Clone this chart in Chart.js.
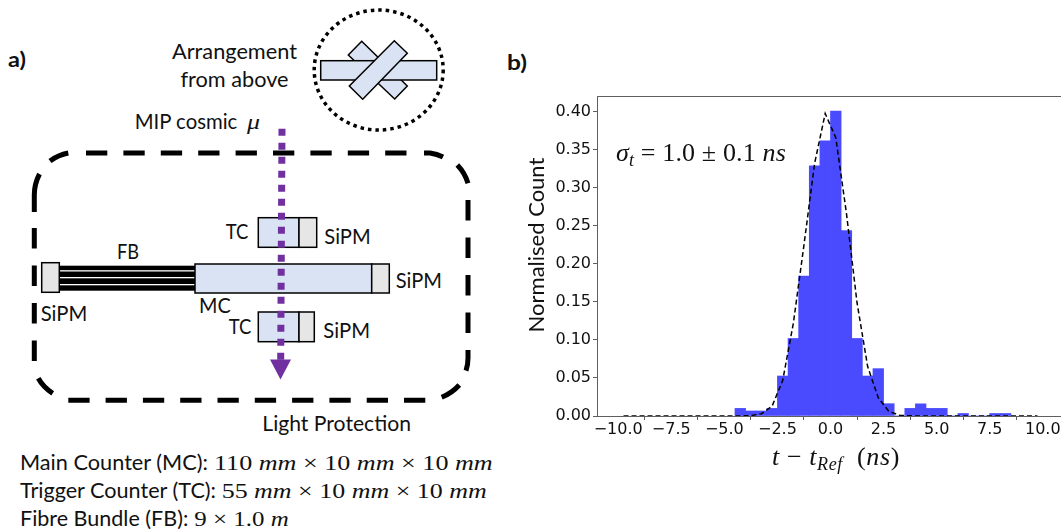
<!DOCTYPE html>
<html lang="en">
<head>
    <meta charset="UTF-8">
    <title>Timing resolution</title>
    <script src="https://cdn.jsdelivr.net/npm/chart.js"></script>
    <style>
        html, body { margin: 0; background: #fff; width: 1061px; height: 529px; overflow: hidden; }
        #diagram { position: absolute; left: 0; top: 0; }
        #diagram text { font-family: Lato, sans-serif; font-size: 22px; fill: #111; }
        #diagram .math { font-family: "Liberation Serif", serif; }
        #diagram .it { font-style: italic; }
        #diagram .panel { font-weight: bold; font-size: 21px; }
        #plot { position: absolute; left: 520px; top: 80px; width: 560px; height: 449px; }
    </style>
</head>
<body>
    <svg id="diagram" width="1061" height="529">
        <text class="panel" x="8" y="67" textLength="18" lengthAdjust="spacingAndGlyphs">a)</text>
        <text class="panel" x="507" y="70" textLength="20" lengthAdjust="spacingAndGlyphs">b)</text>

        <!-- arrangement from above -->
        <text x="172" y="59" textLength="125" lengthAdjust="spacingAndGlyphs">Arrangement</text>
        <text x="180.500" y="87" textLength="108" lengthAdjust="spacingAndGlyphs">from above</text>
        <ellipse cx="378.700" cy="70" rx="64.500" ry="60" fill="none" stroke="#000" stroke-width="3.500" stroke-dasharray="3.500 4"/>
        <polygon points="361.700,41.300 407.300,86 394.700,99 348.300,55" fill="#dae3f3" stroke="#000" stroke-width="1.500"/>
        <rect x="320.700" y="60.700" width="116" height="19.300" fill="#dae3f3" stroke="#000" stroke-width="1.500"/>
        <polygon points="394.300,40.700 407.300,53.300 362.700,99.300 349.300,86" fill="#dae3f3" stroke="#000" stroke-width="1.500"/>

        <text x="134.700" y="129" textLength="102.600" lengthAdjust="spacingAndGlyphs">MIP cosmic</text>
        <text class="math it" x="247" y="129" textLength="13" lengthAdjust="spacingAndGlyphs">μ</text>

        <!-- fibre bundle -->
        <rect x="59.300" y="265.700" width="136" height="25" fill="#000"/>
        <rect x="59.300" y="270.200" width="136" height="1.300" fill="#fff"/>
        <rect x="59.300" y="277" width="136" height="1.300" fill="#fff"/>
        <rect x="59.300" y="284" width="136" height="1.300" fill="#fff"/>
        <rect x="41.700" y="262.700" width="17.600" height="29.600" fill="#e7e6e6" stroke="#000" stroke-width="1.500"/>
        <text x="117" y="259" textLength="22" lengthAdjust="spacingAndGlyphs">FB</text>

        <!-- counters -->
        <rect x="195" y="264" width="176.700" height="29" fill="#dae3f3" stroke="#000" stroke-width="1.500"/>
        <rect x="371.700" y="264" width="17.600" height="29" fill="#e7e6e6" stroke="#000" stroke-width="1.500"/>
        <rect x="258.300" y="217.700" width="40.700" height="29.600" fill="#dae3f3" stroke="#000" stroke-width="1.500"/>
        <rect x="299" y="217.700" width="17.700" height="29.600" fill="#e7e6e6" stroke="#000" stroke-width="1.500"/>
        <rect x="258.300" y="312" width="40.700" height="29.700" fill="#dae3f3" stroke="#000" stroke-width="1.500"/>
        <rect x="299" y="312" width="15.300" height="29.700" fill="#e7e6e6" stroke="#000" stroke-width="1.500"/>

        <text x="225.700" y="238.700" textLength="22.600" lengthAdjust="spacingAndGlyphs">TC</text>
        <text x="324.300" y="244.300" textLength="46.400" lengthAdjust="spacingAndGlyphs">SiPM</text>
        <text x="395.700" y="287.700" textLength="46.300" lengthAdjust="spacingAndGlyphs">SiPM</text>
        <text x="40.700" y="320.700" textLength="46.600" lengthAdjust="spacingAndGlyphs">SiPM</text>
        <text x="199" y="312.700" textLength="31.700" lengthAdjust="spacingAndGlyphs">MC</text>
        <text x="228.700" y="333.700" textLength="22.600" lengthAdjust="spacingAndGlyphs">TC</text>
        <text x="323.300" y="338" textLength="46.700" lengthAdjust="spacingAndGlyphs">SiPM</text>

        <!-- muon track -->
        <line x1="282" y1="128.700" x2="280.700" y2="360" stroke="#7030a0" stroke-width="7" stroke-dasharray="7 7"/>
        <polygon points="270,359.500 291,359.500 280.500,379.500" fill="#7030a0"/>

        <!-- light protection box -->
        <g fill="none" stroke="#000" stroke-width="5">
            <line x1="86" y1="153" x2="406.500" y2="153" stroke-dasharray="21.300 16.100"/>
            <line x1="68.300" y1="400.300" x2="426" y2="400.300" stroke-dasharray="21.300 16"/>
            <line x1="34.300" y1="228" x2="34.300" y2="362" stroke-dasharray="20.500 17"/>
            <line x1="468" y1="200" x2="468" y2="333" stroke-dasharray="20.500 17"/>
            <path d="M50,161 Q58,155 68.300,153"/>
            <path d="M39.500,174 Q34.300,184 34.300,195 L34.300,212"/>
            <path d="M38.300,378.300 Q43,387 52.700,393.300"/>
            <path d="M441.700,397.300 Q452,393 459.300,385"/>
            <path d="M468,350 L468,358 Q468,365 466,370.700"/>
            <path d="M424,153 L430,153 Q437,154 443,157"/>
            <path d="M457.300,165 Q465,173 468,183.300"/>
        </g>
        <text x="262.300" y="430.700" textLength="148.700" lengthAdjust="spacingAndGlyphs">Light Protection</text>

        <!-- dimensions -->
        <text x="20" y="470" textLength="188" lengthAdjust="spacingAndGlyphs">Main Counter (MC):</text>
        <text class="math" x="214" y="470" textLength="278.700" lengthAdjust="spacingAndGlyphs">110 <tspan class="it">mm</tspan> × 10 <tspan class="it">mm</tspan> × 10 <tspan class="it">mm</tspan></text>
        <text x="20" y="498" textLength="196" lengthAdjust="spacingAndGlyphs">Trigger Counter (TC):</text>
        <text class="math" x="221.700" y="498" textLength="265" lengthAdjust="spacingAndGlyphs">55 <tspan class="it">mm</tspan> × 10 <tspan class="it">mm</tspan> × 10 <tspan class="it">mm</tspan></text>
        <text x="20" y="526" textLength="168.300" lengthAdjust="spacingAndGlyphs">Fibre Bundle (FB):</text>
        <text class="math" x="194.300" y="526" textLength="94.400" lengthAdjust="spacingAndGlyphs">9 × 1.0 <tspan class="it">m</tspan></text>
    </svg>

    <div id="plot"><canvas id="timingChart"></canvas></div>

    <script>
        // histogram bins, left edge of each 0.5 ns bin
        const binEdges = [-4.5, -4, -3.5, -3, -2.5, -2, -1.5, -1, -0.5, 0, 0.5, 1, 1.5, 2, 2.5, 3, 3.5, 4, 4.5, 5, 5.5, 6, 6.5, 7, 7.5, 8];
        const binCounts = [0.010, 0.0066, 0.0066, 0.010, 0.0526, 0.102, 0.184, 0.329, 0.362, 0.401, 0.244, 0.102, 0.0526, 0.0623, 0.0162, 0, 0.010, 0.016, 0.010, 0.010, 0, 0.0033, 0, 0, 0.0033, 0.0033];

        // fit curve
        const fitX = [-9.75, -8.75, -7.75, -6.75, -5.75, -4.75, -4.25, -3.75, -3.25, -2.75, -2.25, -1.75, -1.25, -0.75, -0.25, 0.25, 0.75, 1.25, 1.75, 2.25, 2.75, 3.25, 3.75, 4.25, 4.75, 5.75, 6.75, 7.75, 8.75, 9.75];
        const fitY = [0, 0, 0, 0, 0, 0, 0.0001, 0.0005, 0.003, 0.013, 0.047, 0.122, 0.225, 0.332, 0.398, 0.366, 0.267, 0.149, 0.065, 0.024, 0.006, 0.001, 0.0002, 0, 0, 0, 0, 0, 0, 0];

        const xTicks = [-10, -7.5, -5, -2.5, 0, 2.5, 5, 7.5, 10];
        const xTickLabels = ['−10.0', '−7.5', '−5.0', '−2.5', '0.0', '2.5', '5.0', '7.5', '10.0'];
        const yTicks = [0, 0.05, 0.10, 0.15, 0.20, 0.25, 0.30, 0.35, 0.40];
        const yTickLabels = ['0.00', '0.05', '0.10', '0.15', '0.20', '0.25', '0.30', '0.35', '0.40'];

        const SERIF = '"Liberation Serif", serif';
        const axisColor = '#5f5f5f';

        function drawRuns(ctx, x, y, runs) {
            runs.forEach(r => {
                ctx.font = r.font;
                ctx.fillText(r.text, x, y + (r.dy || 0));
                x += ctx.measureText(r.text).width;
            });
        }

        const labels = {
            id: 'labels',
            afterDraw(chart) {
                const { ctx, chartArea } = chart;
                ctx.save();
                // top spine
                ctx.strokeStyle = axisColor;
                ctx.lineWidth = 1;
                ctx.beginPath();
                ctx.moveTo(chartArea.left, chartArea.top + 0.5);
                ctx.lineTo(chartArea.right, chartArea.top + 0.5);
                ctx.stroke();

                ctx.fillStyle = '#111';
                ctx.textAlign = 'left';
                ctx.textBaseline = 'alphabetic';
                const big = '26px ' + SERIF;
                const bigIt = 'italic 26px ' + SERIF;
                const sub = 'italic 18px ' + SERIF;
                ctx.letterSpacing = '0.15px';
                drawRuns(ctx, 96, 81, [
                    { text: 'σ', font: bigIt },
                    { text: 't', font: sub, dy: 5 },
                    { text: ' = 1.0 ± 0.1 ', font: big },
                    { text: 'ns', font: bigIt }
                ]);
                ctx.letterSpacing = '0.6px';
                drawRuns(ctx, 252, 385, [
                    { text: 't', font: bigIt },
                    { text: ' − ', font: big },
                    { text: 't', font: bigIt },
                    { text: 'Ref', font: sub, dy: 5 },
                    { text: '  (', font: big },
                    { text: 'ns', font: bigIt },
                    { text: ')', font: big }
                ]);
                ctx.letterSpacing = '0px';

                // y axis title, sits above the axis centre in the original
                ctx.translate(17, 165);
                ctx.rotate(-Math.PI / 2);
                ctx.textAlign = 'center';
                ctx.textBaseline = 'middle';
                ctx.font = '22px Lato';
                ctx.fillText('Normalised Count', 0, 0);
                ctx.restore();
            }
        };

        new Chart(document.getElementById('timingChart'), {
            type: 'bar',
            data: {
                datasets: [
                    {
                        type: 'line',
                        label: 'fit',
                        order: 0,
                        data: fitX.map((x, i) => ({ x: x, y: fitY[i] })),
                        borderColor: '#000',
                        borderWidth: 1.5,
                        borderDash: [5, 3],
                        pointRadius: 0,
                        tension: 0,
                        fill: false
                    },
                    {
                        label: 'counts',
                        order: 1,
                        data: binEdges.map((e, i) => ({ x: e + 0.25, y: binCounts[i] })),
                        backgroundColor: '#4a4aff',
                        borderWidth: 0,
                        barPercentage: 1,
                        categoryPercentage: 1
                    }
                ]
            },
            options: {
                responsive: true,
                maintainAspectRatio: false,
                animation: false,
                layout: { padding: { top: 16, right: 16, left: 0, bottom: 0 } },
                plugins: {
                    legend: { display: false },
                    tooltip: { enabled: false }
                },
                scales: {
                    x: {
                        type: 'linear',
                        offset: false,
                        min: -11,
                        max: 11,
                        afterBuildTicks: s => { s.ticks = xTicks.map(v => ({ value: v })); },
                        afterFit: s => { s.height = 113; },
                        border: { color: axisColor },
                        grid: { drawOnChartArea: false, tickLength: 4, tickColor: axisColor },
                        ticks: {
                            autoSkip: false,
                            maxRotation: 0,
                            padding: 0,
                            color: '#111',
                            font: { family: '"DejaVu Sans"', size: 16 },
                            callback: (v) => xTickLabels[xTicks.indexOf(v)]
                        }
                    },
                    y: {
                        min: 0,
                        max: 0.421,
                        afterBuildTicks: s => { s.ticks = yTicks.map(v => ({ value: v })); },
                        afterFit: s => { s.width = 77; },
                        border: { color: axisColor },
                        grid: { drawOnChartArea: false, tickLength: 4, tickColor: axisColor },
                        ticks: {
                            padding: 2,
                            color: '#111',
                            font: { family: '"DejaVu Sans"', size: 16 },
                            callback: (v) => yTickLabels[yTicks.findIndex(t => Math.abs(t - v) < 1e-6)]
                        }
                    }
                }
            },
            plugins: [labels]
        });
    </script>
</body>
</html>
